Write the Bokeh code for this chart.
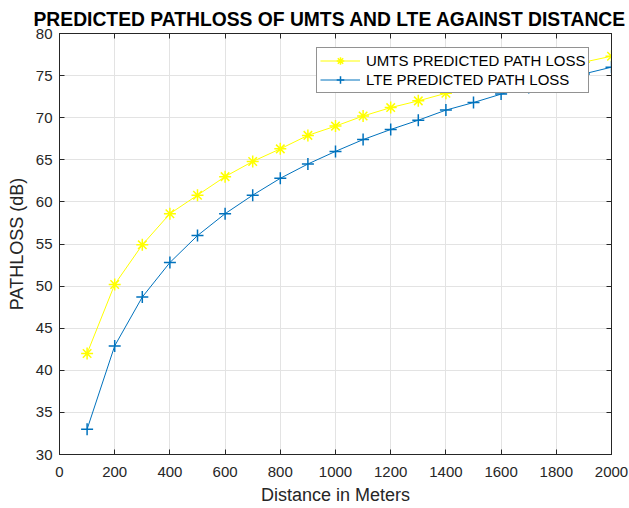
from bokeh.plotting import figure
from bokeh.models import (ColumnDataSource, FixedTicker, LinearAxis, Legend, LegendItem,
                          Range1d, Title)
from bokeh.embed import file_html
from bokeh.resources import INLINE

# ---- data ----
distance = [100, 200, 300, 400, 500, 600, 700, 800, 900, 1000,
            1100, 1200, 1300, 1400, 1500, 1600, 1700, 1800, 1900, 2000]
umts_loss = [42.0, 50.2, 54.9, 58.6, 60.8, 63.0, 64.8, 66.3, 67.9, 69.0,
             70.2, 71.2, 72.0, 72.9, 73.7, 74.5, 75.2, 75.9, 76.6, 77.3]
lte_loss = [33.0, 42.9, 48.7, 52.8, 56.0, 58.6, 60.8, 62.8, 64.5, 66.0,
            67.4, 68.6, 69.7, 70.9, 71.8, 72.8, 73.6, 74.4, 75.2, 76.0]
x_ticks = [0, 200, 400, 600, 800, 1000, 1200, 1400, 1600, 1800, 2000]
y_ticks = [30, 35, 40, 45, 50, 55, 60, 65, 70, 75, 80]

FONT = "Liberation Sans"
AX = "#262626"

src = ColumnDataSource(dict(d=distance, umts=umts_loss, lte=lte_loss))

p = figure(width=629, height=508, output_backend="svg", toolbar_location=None,
           x_range=Range1d(0, 2000), y_range=Range1d(30, 80),
           min_border_left=59, min_border_right=18, min_border_top=33, min_border_bottom=54,
           background_fill_color="white", border_fill_color="white")
p.title = Title(text="PREDICTED PATHLOSS OF UMTS AND LTE AGAINST DISTANCE",
                text_font=FONT, text_font_size="19.3px", text_font_style="bold",
                text_color="black", align="left", standoff=8, offset=-26)
p.outline_line_color = AX
p.outline_line_width = 1

for ax in (p.xaxis[0], p.yaxis[0]):
    ax.major_label_text_font = FONT
    ax.major_label_text_font_size = "15px"
    ax.major_label_text_color = AX
    ax.axis_label_text_font = FONT
    ax.axis_label_text_font_size = "18px"
    ax.axis_label_text_font_style = "normal"
    ax.axis_label_text_color = AX
    ax.axis_line_color = AX
    ax.major_tick_line_color = AX
    ax.major_tick_in = 5
    ax.major_tick_out = 0
    ax.minor_tick_line_color = None

p.xaxis[0].ticker = FixedTicker(ticks=x_ticks)
p.yaxis[0].ticker = FixedTicker(ticks=y_ticks)
p.xaxis[0].axis_label = "Distance in Meters"
p.yaxis[0].axis_label = "PATHLOSS (dB)"
p.xaxis[0].major_label_standoff = 12
p.xaxis[0].axis_label_standoff = 5
p.yaxis[0].major_label_standoff = 7
p.yaxis[0].axis_label_standoff = 6

for loc, ticks in (("above", x_ticks), ("right", y_ticks)):
    a = LinearAxis(ticker=FixedTicker(ticks=ticks), major_label_text_font_size="1px",
                   major_label_text_color=None,
                   major_label_standoff=0, major_tick_in=5, major_tick_out=0,
                   minor_tick_line_color=None, axis_line_color=AX,
                   major_tick_line_color=AX)
    p.add_layout(a, loc)

p.xgrid.ticker = FixedTicker(ticks=x_ticks)
p.ygrid.ticker = FixedTicker(ticks=y_ticks)
p.grid.grid_line_color = "#e3e3e3"
p.grid.grid_line_width = 1

YEL = "#FFFF00"
BLU = "#0072BD"
l1 = p.line("d", "umts", source=src, line_color=YEL, line_width=1)
m1 = p.scatter("d", "umts", source=src, marker="asterisk", size=12,
               line_color=YEL, line_width=1.5)
l2 = p.line("d", "lte", source=src, line_color=BLU, line_width=1)
m2 = p.scatter("d", "lte", source=src, marker="cross", size=12,
               line_color=BLU, line_width=1.5)

legend = Legend(items=[LegendItem(label="UMTS PREDICTED PATH LOSS", renderers=[l1, m1]),
                       LegendItem(label="LTE PREDICTED PATH LOSS", renderers=[l2, m2])],
                location=(257, 361), margin=0, padding=3, spacing=0,
                label_height=19, glyph_height=19, glyph_width=40, label_standoff=6,
                label_text_font=FONT, label_text_font_size="15px", label_text_color="black",
                border_line_color=AX, border_line_width=1,
                background_fill_color="white", background_fill_alpha=1)
p.add_layout(legend)

open("out.html", "w").write(file_html(p, INLINE))
